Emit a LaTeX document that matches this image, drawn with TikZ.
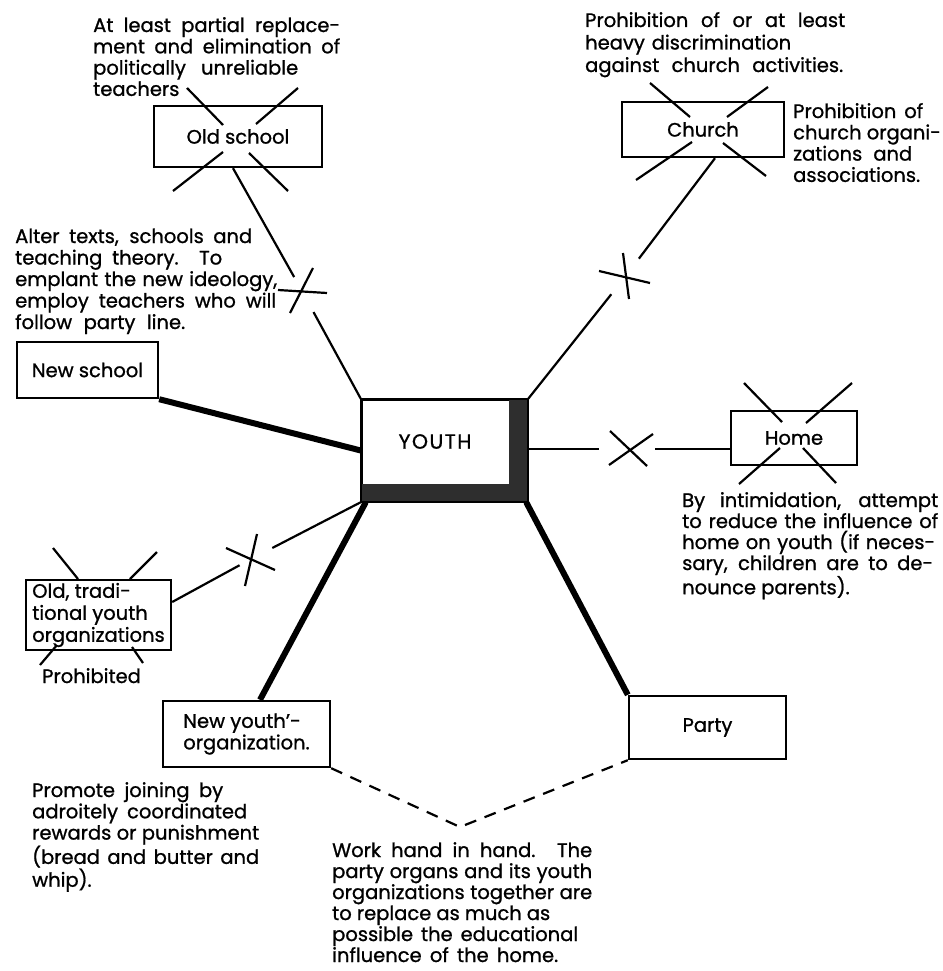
\documentclass[tikz,border=0pt]{standalone}
\usepackage{fontspec}
\setmainfont{Poppins}[FakeBold=1]
\usetikzlibrary{calc}
\newcommand{\jline}[2]{\hbox{\makebox[#1pt][s]{#2}}}
\newcommand{\lline}[2]{\hbox{\makebox[#1pt][l]{#2}}}
\begin{document}
\begin{tikzpicture}[x=1pt,y=-1pt,
  box/.style={draw, line width=2.4pt, inner sep=0pt, font=\fontsize{19.5}{21.5}\selectfont},
  conn/.style={line width=2.2pt},
  xmark/.style={line width=2.2pt},
  thickconn/.style={line width=6pt},
  note/.style={inner sep=0pt, anchor=base west, font=\fontsize{19.5}{21.3}\selectfont},
  dashconn/.style={line width=2.2pt, dash pattern=on 12pt off 9pt}
]
\useasboundingbox (0,0) rectangle (942,971);

% boxes
\node[box, minimum width=168pt, minimum height=61pt] (oldschool) at (238,136.5) {Old school};
\node[box, minimum width=162pt, minimum height=55pt] (church) at (703,129.5) {Church};
\node[box, minimum width=141pt, minimum height=56pt] (newschool) at (87.5,370) {New school};
\node[box, minimum width=126pt, minimum height=54pt] (home) at (794,438) {Home};
\node[box, minimum width=145pt, minimum height=70pt, align=left, font=\fontsize{19.5}{22}\selectfont] (oldtrad) at (98.5,615) {Old, tradi-\\tional youth\\organizations};
\node[box, minimum width=167pt, minimum height=66pt, align=left] (newyouth) at (246.5,734) {New youth'-\\organization.};
\node[box, minimum width=157pt, minimum height=63pt] (party) at (707.5,727.5) {Party};

% YOUTH box with heavy right and bottom borders
\node[box, minimum width=165pt, minimum height=101pt] (youth) at (444.5,450.5) {};
\fill[black!82] ([shift={(-19,0)}]youth.north east) rectangle (youth.south east);
\fill[black!82] ([shift={(0,-18)}]youth.south west) rectangle (youth.south east);
\draw[line width=2.4pt] (youth.north west) rectangle (youth.south east);
\node[font=\fontsize{20.5}{21.5}\selectfont\addfontfeatures{LetterSpace=7}, inner sep=0pt] (youthlabel) at ([shift={(-9.5,-9)}]youth.center) {YOUTH};

% cross points on broken connectors
\coordinate (xs1) at (302,291);
\coordinate (xs2) at (625,277);
\coordinate (xs3) at (631,449);
\coordinate (xs4) at (251,559);
\coordinate (vpt) at (460,827);

% Old school -- YOUTH (broken)
\draw[conn, shorten >=16pt] ([shift={(-5,0)}]oldschool.south) -- (xs1);
\draw[conn, shorten <=24pt] (xs1) -- (youth.north west);
\draw[xmark] ([shift={(11,-23)}]xs1) -- ([shift={(-12,22)}]xs1);
\draw[xmark] ([shift={(-24,-1)}]xs1) -- ([shift={(25,2)}]xs1);

% Church -- YOUTH (broken)
\draw[conn, shorten >=23pt] ([shift={(12,0)}]church.south) -- (xs2);
\draw[conn, shorten <=22pt] (xs2) -- (youth.north east);
\draw[xmark] ([shift={(-2,-24)}]xs2) -- ([shift={(4,22)}]xs2);
\draw[xmark] ([shift={(-26,-6)}]xs2) -- ([shift={(25,6)}]xs2);

% YOUTH -- Home (broken)
\draw[conn, shorten >=32pt] (youth.east |- xs3) -- (xs3);
\draw[conn, shorten <=24pt] (xs3) -- (home.west |- xs3);
\draw[xmark] ([shift={(-21,-18)}]xs3) -- ([shift={(16,17)}]xs3);
\draw[xmark] ([shift={(22,-15)}]xs3) -- ([shift={(-22,16)}]xs3);

% Old traditional -- YOUTH (broken)
\draw[conn, shorten >=13pt] ([shift={(0,-13)}]oldtrad.east) -- (xs4);
\draw[conn, shorten <=24pt] (xs4) -- (youth.south west);
\draw[xmark] ([shift={(6,-25)}]xs4) -- ([shift={(-6,27)}]xs4);
\draw[xmark] ([shift={(-25,-11)}]xs4) -- ([shift={(24,11)}]xs4);

% heavy connectors
\draw[thickconn] (newschool.south east) -- (youth.west);
\draw[thickconn] ([shift={(5,0)}]youth.south west) -- ([shift={(13.5,0)}]newyouth.north);
\draw[thickconn] ([shift={(-2,0)}]youth.south east) -- (party.north west);

% dashed connectors
\draw[dashconn] (newyouth.south east) -- (vpt) -- (party.south west);

% crossed-out boxes
\draw[xmark] ([shift={(-51,-48.5)}]oldschool.center) -- ([shift={(-15,-11.5)}]oldschool.center);
\draw[xmark] ([shift={(60,-48.5)}]oldschool.center) -- ([shift={(18,-12.5)}]oldschool.center);
\draw[xmark] ([shift={(-15,15.5)}]oldschool.center) -- ([shift={(-65,54.5)}]oldschool.center);
\draw[xmark] ([shift={(11,16.5)}]oldschool.center) -- ([shift={(50,54.5)}]oldschool.center);

\draw[xmark] ([shift={(-53,-46.5)}]church.center) -- ([shift={(-13,-12.5)}]church.center);
\draw[xmark] ([shift={(65,-42.5)}]church.center) -- ([shift={(24,-12.5)}]church.center);
\draw[xmark] ([shift={(-11,12.5)}]church.center) -- ([shift={(-67,50.5)}]church.center);
\draw[xmark] ([shift={(20,13.5)}]church.center) -- ([shift={(63,46.5)}]church.center);

\draw[xmark] ([shift={(-50,-55)}]home.center) -- ([shift={(-12,-16)}]home.center);
\draw[xmark] ([shift={(58,-55)}]home.center) -- ([shift={(12,-15)}]home.center);
\draw[xmark] ([shift={(-14,10)}]home.center) -- ([shift={(-55,46)}]home.center);
\draw[xmark] ([shift={(9,10)}]home.center) -- ([shift={(42,45)}]home.center);

\draw[xmark] ([shift={(-45.5,-67)}]oldtrad.center) -- ([shift={(-20.5,-36)}]oldtrad.center);
\draw[xmark] ([shift={(58.5,-63)}]oldtrad.center) -- ([shift={(31.5,-36)}]oldtrad.center);
\draw[xmark] ([shift={(-41.5,30)}]oldtrad.center) -- ([shift={(-58.5,50)}]oldtrad.center);
\draw[xmark] ([shift={(33.5,32)}]oldtrad.center) -- ([shift={(44.5,48)}]oldtrad.center);

% notes (anchored at the baseline of their first line)
\node[note] (n1) at (93,32) {\vtop{\jline{247}{At least partial replace-}\jline{247}{ment and elimination of}\jline{205}{politically unreliable}\lline{80}{teachers}}};
\node[note, font=\fontsize{19.5}{22.5}\selectfont] (n2) at (585,27) {\vtop{\jline{260}{Prohibition of or at least}\jline{206}{heavy discrimination}\jline{258}{against church activities.}}};
\node[note] (n3) at (793,118) {\vtop{\jline{130}{Prohibition of}\lline{150}{church organi-}\jline{119}{zations and}\lline{114}{associations.}}};
\node[note, font=\fontsize{19.5}{21.5}\selectfont] (n4) at (15,243) {\vtop{\jline{237}{Alter texts, schools and}\jline{207}{teaching theory. To}\jline{262}{emplant the new ideology,}\jline{261}{employ teachers who will}\jline{170}{follow party line.}}};
\node[note, font=\fontsize{19.5}{21}\selectfont] (n5) at (682,507) {\vtop{\jline{256}{By intimidation, attempt}\jline{256}{to reduce the influence of}\jline{253}{home on youth (if neces-}\jline{251}{sary, children are to de-}\lline{163}{nounce parents).}}};
\node[note] (n6) at (32,797) {\vtop{\jline{191}{Promote joining by}\jline{215}{adroitely coordinated}\jline{227}{rewards or punishment}\jline{227}{(bread and butter and}\lline{59}{whip).}}};
\node[note, font=\fontsize{19.5}{21}\selectfont] (n7) at (332,857) {\vtop{\jline{260}{Work hand in hand. The}\jline{260}{party organs and its youth}\jline{260}{organizations together are}\jline{218}{to replace as much as}\jline{246}{possible the educational}\jline{226}{influence of the home.}}};
\node[note] (prohib) at (42,683) {Prohibited};
\end{tikzpicture}
\end{document}
